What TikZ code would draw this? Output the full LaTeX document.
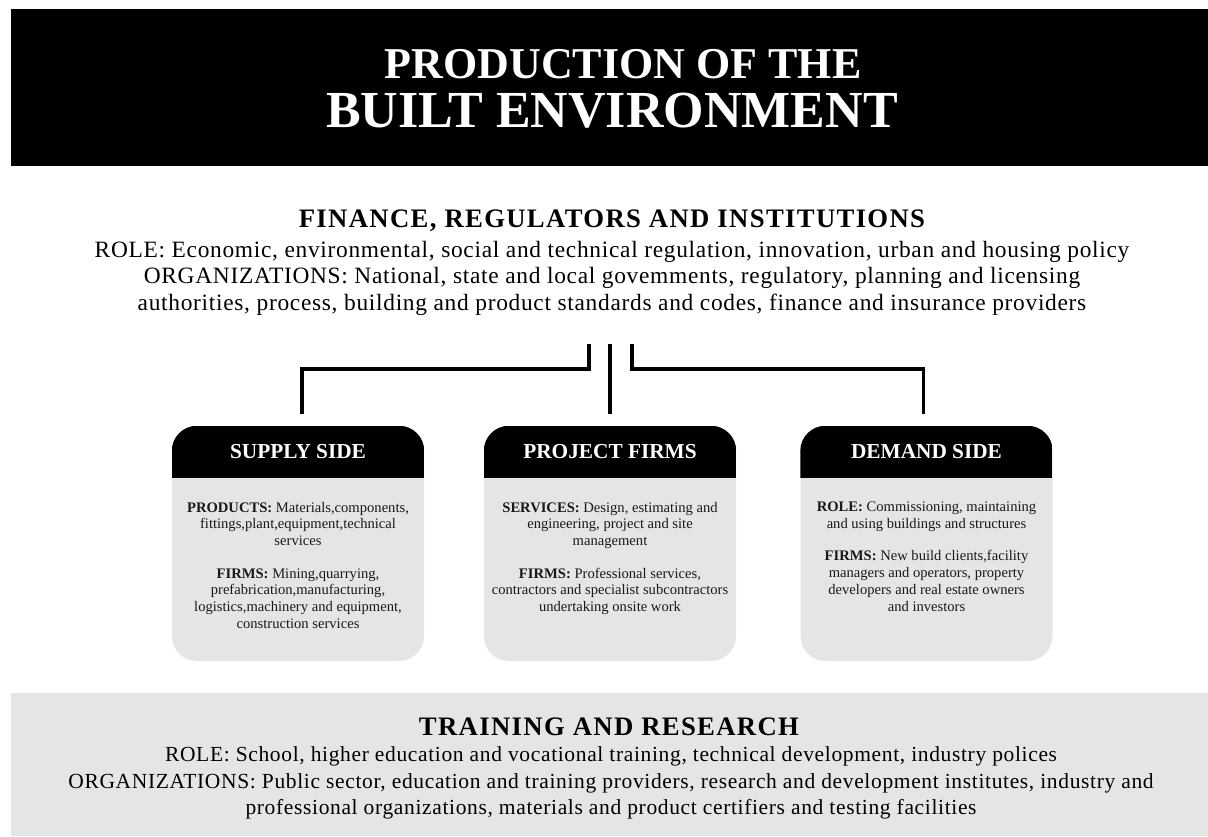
\documentclass[tikz,border=0pt]{standalone}
\usepackage{fontspec}
\setmainfont{Liberation Serif}
\usetikzlibrary{positioning}

\newcommand*{\sidebox}[4]{%
\node[sidebody] (#1) at (#2, \boxy) {};
\begin{scope}
  \clip[rounded corners=25pt] (#1.north west) rectangle (#1.south east);
  \fill[black] (#1.north west) rectangle ([yshift=-52pt]#1.north east);
\end{scope}
\node[sidehead] (#1 head) at ([yshift=-26pt]#1.north) {#3};
\node[sidetext] (#1 text) at ([yshift=-76pt]#1.north) {#4};}

\begin{document}
\begin{tikzpicture}[x=1pt, y=-1pt,
  title/.style={anchor=base, text=white, inner sep=0pt},
  heading/.style={anchor=base, inner sep=0pt,
    font=\fontsize{26.7}{30}\selectfont\bfseries\addfontfeature{LetterSpace=5}},
  body/.style={anchor=north, align=center, inner sep=0pt,
    font=\fontsize{23.4}{26.5}\selectfont\addfontfeature{LetterSpace=3}},
  small body/.style={body, font=\fontsize{21.5}{26.6}\selectfont\addfontfeature{LetterSpace=3}},
  band/.style={minimum width=1197pt, inner sep=0pt},
  sidebody/.style={fill=black!10, rounded corners=25pt, minimum width=252pt,
    minimum height=235pt, inner sep=0pt},
  sidehead/.style={text=white, inner sep=0pt, font=\fontsize{21.3}{24}\selectfont\bfseries},
  sidetext/.style={anchor=north, align=center, inner sep=0pt, text=black!90,
    font=\fontsize{14.6}{16.8}\selectfont},
  link/.style={line width=3.5pt}]

\def\boxy{543.5}
\def\gap{15.5pt}

\useasboundingbox (0,0) rectangle (1208,836);

% title banner
\node[band, fill=black, minimum height=157pt] (banner) at (609.5,87.5) {};
\node[title, font=\fontsize{44}{48}\selectfont\bfseries] (title top) at (623,78) {PRODUCTION OF THE};
\node[title, font=\fontsize{52}{54}\selectfont\bfseries] (title bottom) at (612,127) {BUILT ENVIRONMENT};

% finance, regulators and institutions
\node[heading] (finance) at (612,227) {FINANCE, REGULATORS AND INSTITUTIONS};
\node[body] (finance text) at (612,241) {ROLE: Economic, environmental, social and technical regulation, innovation, urban and housing policy\\
  ORGANIZATIONS: National, state and local govemments, regulatory, planning and licensing\\
  authorities, process, building and product standards and codes, finance and insurance providers};

% the three sides
\sidebox{supply}{298}{SUPPLY SIDE}{\textbf{PRODUCTS:} Materials,components,\\
  fittings,plant,equipment,technical\\ services\\[\gap]
  \textbf{FIRMS:} Mining,quarrying,\\ prefabrication,manufacturing,\\
  logistics,machinery and equipment,\\ construction services}
\sidebox{project}{610}{PROJECT FIRMS}{\textbf{SERVICES:} Design, estimating and\\
  engineering, project and site\\ management\\[\gap]
  \textbf{FIRMS:} Professional services,\\ contractors and specialist subcontractors\\
  undertaking onsite work}
\sidebox{demand}{926.5}{DEMAND SIDE}{\textbf{ROLE:} Commissioning, maintaining\\
  and using buildings and structures\\[\gap]
  \textbf{FIRMS:} New build clients,facility\\ managers and operators, property\\
  developers and real estate owners\\ and investors}

% connectors
\coordinate (hub) at (610,344);
\draw[link] ([xshift=-21pt]hub) -- ++(0,25) -| ([xshift=4pt,yshift=12pt]supply.north);
\draw[link] (hub) -- ([yshift=12pt]project.north);
\draw[link] ([xshift=22pt]hub) -- ++(0,25) -| ([xshift=-3pt,yshift=12pt]demand.north);

% training and research
\node[band, fill=black!10, minimum height=143pt] (training band) at (609.5,764.5) {};
\node[heading] (training) at (609,735.5) {TRAINING AND RESEARCH};
\node[small body] (training text) at (611,746.3) {ROLE: School, higher education and vocational training, technical development, industry polices\\
  ORGANIZATIONS: Public sector, education and training providers, research and development institutes, industry and\\
  professional organizations, materials and product certifiers and testing facilities};

\end{tikzpicture}
\end{document}
